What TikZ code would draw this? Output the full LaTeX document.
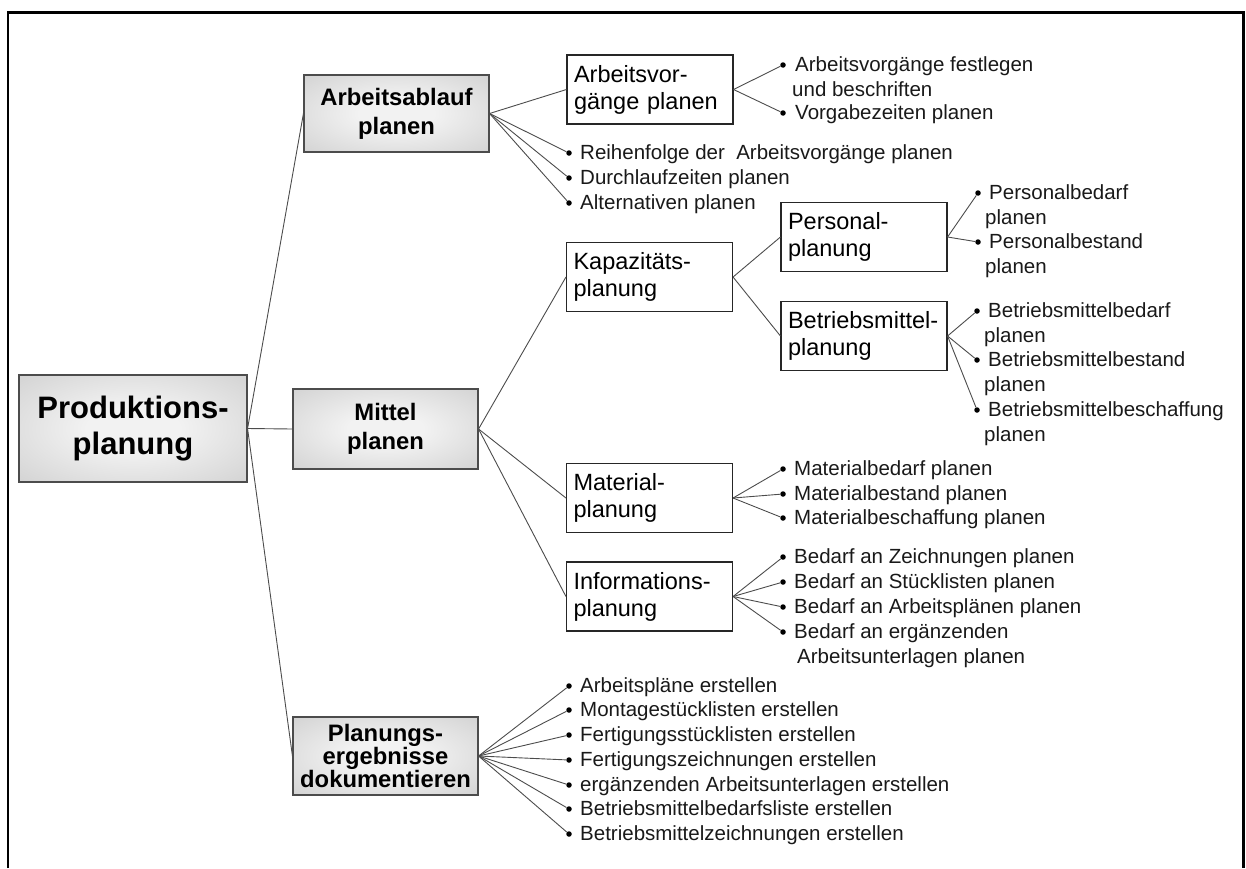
\documentclass[tikz,border=0pt]{standalone}
\usepackage{fontspec}
\setmainfont{Liberation Sans}

% fill of the grey category boxes: light centre, darker rim
\definecolor{boxc}{gray}{0.95}
\definecolor{boxe}{gray}{0.76}
\definecolor{boxk}{gray}{0.66}
\pgfdeclareradialshading{boxglow}{\pgfpoint{0bp}{0bp}}{color(0bp)=(boxc); color(10bp)=(boxc); color(50bp)=(boxe); color(71bp)=(boxk)}

\newcommand\rootfont{\fontsize{31}{36}\selectfont\bfseries}
\newcommand\lvlfont{\fontsize{23.8}{29}\selectfont\bfseries}
\newcommand\lvltight{\fontsize{23.8}{22}\selectfont\bfseries}
\newcommand\subfont{\fontsize{23.5}{27}\selectfont}
\newcommand\itemfont{\fontsize{20.5}{25}\selectfont}

\begin{document}
\begin{tikzpicture}[x=1pt,y=-1pt,
  frame/.style={line width=2.2pt, draw=black},
  mainbox/.style={draw=black!70, line width=1.1pt, shading=boxglow, align=center, text=black, inner sep=0pt},
  subbox/.style={draw=black!85, line width=1.1pt, fill=white, align=left, text width=152pt, inner xsep=7pt, inner ysep=0pt, minimum height=69pt, font=\subfont, text=black},
  conn/.style={draw=black!70, line width=0.9pt},
  dot/.style={circle, fill=black, inner sep=0pt, minimum size=5.5pt},
  btext/.style={anchor=base west, align=left, inner sep=0pt, font=\itemfont, text=black!90},
  bmulti/.style={anchor=north west, align=left, inner sep=0pt, font=\itemfont, text=black!90},
]
\useasboundingbox (0,0) rectangle (1246,868);
\draw[frame] (8,868) -- (8,12.5) -- (1243.5,12.5) -- (1243.5,868);

% ---- root and first level
\node[mainbox, minimum width=228pt, minimum height=107pt, font=\rootfont] (pp) at (133,428.5) {Produktions-\\planung};
\node[mainbox, minimum width=185pt, minimum height=77pt, font=\lvlfont] (aa) at (396.5,113.5) {Arbeitsablauf\\planen};
\node[mainbox, minimum width=185pt, minimum height=80pt, font=\lvlfont] (mp) at (385.5,429) {Mittel\\planen};
\node[mainbox, minimum width=185pt, minimum height=78pt, font=\lvltight] (pl) at (385.5,756) {Planungs-\\ergebnisse\\dokumentieren};

\draw[conn] (pp.east) -- (aa.west);
\draw[conn] (pp.east) -- (mp.west);
\draw[conn] (pp.east) -- (pl.west);

% ---- second level boxes
\node[subbox] (av) at (650,89.5) {Arbeitsvor-\\gänge planen};
\node[subbox] (kp) at (649.5,277) {Kapazitäts-\\planung};
\node[subbox] (ma) at (649.5,498) {Material-\\planung};
\node[subbox] (ip) at (649.5,596.5) {Informations-\\planung};
\node[subbox] (pe) at (864,237) {Personal-\\planung};
\node[subbox] (bm) at (864,336) {Betriebsmittel-\\planung};

\draw[conn] (aa.east) -- (av.west);
\draw[conn] (mp.east) -- (kp.west);
\draw[conn] (mp.east) -- (ma.west);
\draw[conn] (mp.east) -- (ip.west);
\draw[conn] (kp.east) -- (pe.west);
\draw[conn] (kp.east) -- (bm.west);

% ---- Arbeitsablauf planen
\node[dot] (a1) at (569,153) {};
\node[dot] (a2) at (569,178) {};
\node[dot] (a3) at (569,203) {};
\node[btext] (ta1) at (580,159) {Reihenfolge der\ \ Arbeitsvorgänge planen};
\node[btext] (ta2) at (580,184) {Durchlaufzeiten planen};
\node[btext] (ta3) at (580,209) {Alternativen planen};
\foreach \d in {a1,a2,a3} \draw[conn] (aa.east) -- (\d);

% ---- Arbeitsvorgänge planen
\node[dot] (v1) at (783,65) {};
\node[dot] (v2) at (783,113) {};
\node[bmulti] (tv1) at (792,53.5) {\strut\hspace*{3pt}Arbeitsvorgänge festlegen\\und beschriften};
\node[btext] (tv2) at (795,119) {Vorgabezeiten planen};
\foreach \d in {v1,v2} \draw[conn] (av.east) -- (\d);

% ---- Personalplanung
\node[dot] (p1) at (978,193) {};
\node[dot] (p2) at (978,242) {};
\node[bmulti] (tp1) at (985,181.5) {\strut\hspace*{4pt}Personalbedarf\\planen};
\node[bmulti] (tp2) at (985,230.5) {\strut\hspace*{4pt}Personalbestand\\planen};
\foreach \d in {p1,p2} \draw[conn] (pe.east) -- (\d);

% ---- Betriebsmittelplanung
\node[dot] (b1) at (977,311) {};
\node[dot] (b2) at (977,360) {};
\node[dot] (b3) at (977,410) {};
\node[bmulti] (tb1) at (984,299.5) {\strut\hspace*{4pt}Betriebsmittelbedarf\\planen};
\node[bmulti] (tb2) at (984,348.5) {\strut\hspace*{4pt}Betriebsmittelbestand\\planen};
\node[bmulti] (tb3) at (984,398.5) {\strut\hspace*{4pt}Betriebsmittelbeschaffung\\planen};
\foreach \d in {b1,b2,b3} \draw[conn] (bm.east) -- (\d);

% ---- Materialplanung
\node[dot] (m1) at (783,469) {};
\node[dot] (m2) at (783,494) {};
\node[dot] (m3) at (783,518) {};
\node[btext] (tm1) at (794,475) {Materialbedarf planen};
\node[btext] (tm2) at (794,500) {Materialbestand planen};
\node[btext] (tm3) at (794,524) {Materialbeschaffung planen};
\foreach \d in {m1,m2,m3} \draw[conn] (ma.east) -- (\d);

% ---- Informationsplanung
\node[dot] (i1) at (783,557) {};
\node[dot] (i2) at (783,582) {};
\node[dot] (i3) at (783,607) {};
\node[dot] (i4) at (783,632) {};
\node[btext] (ti1) at (794,563) {Bedarf an Zeichnungen planen};
\node[btext] (ti2) at (794,588) {Bedarf an Stücklisten planen};
\node[btext] (ti3) at (794,613) {Bedarf an Arbeitsplänen planen};
\node[bmulti] (ti4) at (794,620.5) {\strut Bedarf an ergänzenden\\\hspace*{3pt}Arbeitsunterlagen planen};
\foreach \d in {i1,i2,i3,i4} \draw[conn] (ip.east) -- (\d);

% ---- Planungsergebnisse dokumentieren
\node[dot] (d1) at (569,686) {};
\node[dot] (d2) at (569,710) {};
\node[dot] (d3) at (569,735) {};
\node[dot] (d4) at (569,760) {};
\node[dot] (d5) at (569,785) {};
\node[dot] (d6) at (569,809) {};
\node[dot] (d7) at (569,834) {};
\node[btext] (td1) at (580,692) {Arbeitspläne erstellen};
\node[btext] (td2) at (580,716) {Montagestücklisten erstellen};
\node[btext] (td3) at (580,741) {Fertigungsstücklisten erstellen};
\node[btext] (td4) at (580,766) {Fertigungszeichnungen erstellen};
\node[btext] (td5) at (580,791) {ergänzenden Arbeitsunterlagen erstellen};
\node[btext] (td6) at (580,815) {Betriebsmittelbedarfsliste erstellen};
\node[btext] (td7) at (580,840) {Betriebsmittelzeichnungen erstellen};
\foreach \d in {d1,d2,d3,d4,d5,d6,d7} \draw[conn] (pl.east) -- (\d);
\end{tikzpicture}
\end{document}
